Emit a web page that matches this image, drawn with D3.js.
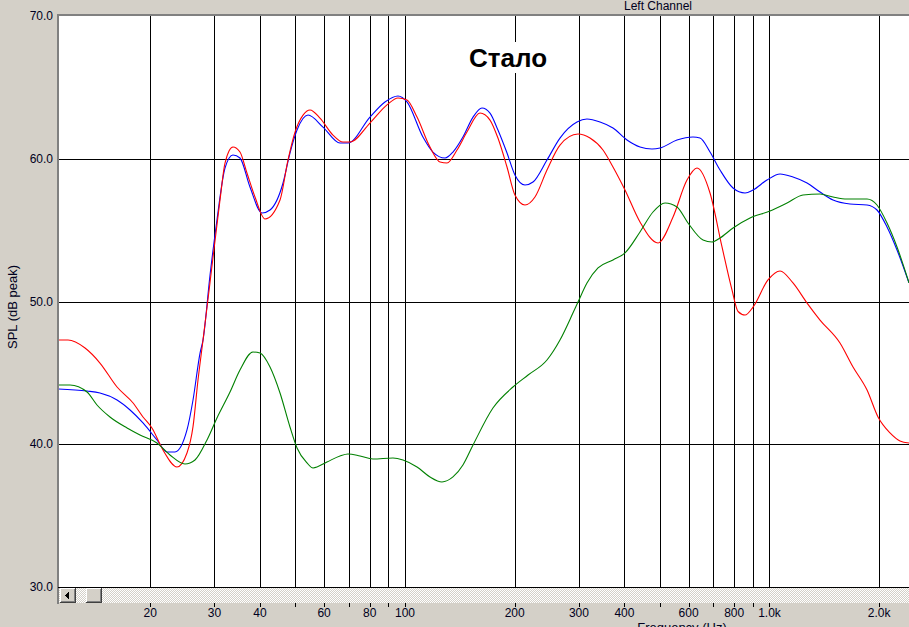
<!DOCTYPE html>
<html>
<head>
<meta charset="utf-8">
<script src="https://cdn.jsdelivr.net/npm/d3@7"></script>
<style>
  html, body { margin: 0; padding: 0; background: #d4d0c8; overflow: hidden; }
  svg { display: block; font-family: "Liberation Sans", Arial, sans-serif; }
</style>
</head>
<body>
<svg id="chart" width="909" height="627"></svg>
<script>
// Left channel frequency response, three measurements on a log axis.

// grid frequencies and the labels under them (blank = tick only)
let gridFreqs = [20, 30, 40, 50, 60, 70, 80, 90, 100, 200, 300, 400, 500, 600, 700, 800, 900, 1000, 2000];
let gridLabels = ["20", "30", "40", "", "60", "", "80", "", "100", "200", "300", "400", "", "600", "", "800", "", "1.0k", "2.0k"];
let dbTicks = [30, 40, 50, 60, 70];

// [frequency Hz, SPL dB]
let blueSeries = [
  [11.2, 43.87], [13.42, 43.73], [14.56, 43.59], [16.22, 43.10], [17.61, 42.40], [19.11, 41.49],
  [20.87, 40.30], [22.23, 39.46], [23.39, 39.46], [25.23, 41.00], [26.21, 43.10], [27.40, 46.39],
  [27.92, 47.30], [29.17, 51.8], [30.49, 55.71], [32.08, 59.35], [33.74, 60.26], [35.26, 60.05],
  [37.56, 58.02], [40.53, 56.20], [42.63, 56.41], [46.28, 58.30], [48.36, 60.40], [50.56, 62.01],
  [54.20, 63.06], [59.57, 62.22], [66.32, 61.10], [69.76, 61.10], [80.15, 62.92], [88.13, 63.98],
  [95.67, 64.40], [101.27, 63.98], [112.0, 61.52], [119.3, 60.47], [128.8, 60.05], [135.4, 60.47],
  [144.2, 61.52], [153.7, 62.92], [162.6, 63.56], [171.1, 63.20], [179.9, 62.01], [190.5, 60.40],
  [200.3, 58.86], [213.4, 58.16], [224.5, 58.37], [245.2, 59.91], [266.2, 61.45], [296.4, 62.57],
  [315.7, 62.78], [342.8, 62.57], [372.1, 62.15], [406.5, 61.31], [441.3, 60.82], [476.1, 60.68],
  [500.8, 60.75], [557.5, 61.31], [616.8, 61.52], [644.7, 61.45], [686.8, 60.47], [731.6, 59.21],
  [794.2, 57.95], [856.9, 57.60], [901.2, 57.81], [984.3, 58.51], [1069, 58.93], [1160, 58.72],
  [1268, 58.30], [1376, 57.67], [1494, 57.11], [1663, 56.83], [1852, 56.76], [1972, 56.41],
  [2101, 55.22], [2238, 53.61], [2414, 51.3]
];

let redSeries = [
  [11.2, 47.30], [11.90, 47.30], [13.25, 46.74], [14.56, 45.69], [16.22, 44.01], [17.95, 42.89],
  [19.11, 41.91], [20.22, 41.14], [21.68, 39.60], [23.68, 38.41], [25.23, 39.39], [26.21, 41.23],
  [27.05, 44.50], [27.92, 47.30], [29.17, 51.3], [31.08, 57.11], [32.08, 59.70], [33.74, 60.82],
  [35.26, 60.47], [36.85, 59.00], [38.77, 57.32], [41.30, 55.78], [45.41, 57.11], [47.75, 59.91],
  [49.92, 61.87], [52.52, 63.06], [54.89, 63.42], [58.44, 62.85], [63.45, 61.66], [67.59, 61.17],
  [70.65, 61.17], [80.15, 62.50], [89.25, 63.77], [95.67, 64.26], [101.27, 64.12], [107.9, 62.92],
  [117.1, 60.82], [124.8, 59.77], [130.4, 59.70], [138.9, 60.61], [147.9, 61.87], [160.6, 63.20],
  [171.1, 62.71], [179.9, 61.45], [190.5, 59.42], [200.3, 57.46], [213.4, 56.76], [227.3, 57.32],
  [245.2, 59.21], [266.2, 60.96], [298.3, 61.73], [321.8, 61.45], [349.3, 60.61], [372.1, 59.42],
  [401.4, 57.81], [441.3, 55.57], [494.5, 54.10], [543.7, 55.92], [593.8, 58.51], [632.6, 59.35],
  [686.8, 57.60], [740.9, 53.82], [789.0, 50.81], [820.0, 49.30], [856.9, 49.05], [901.2, 49.61],
  [990.6, 51.51], [1069, 52.14], [1160, 51.30], [1268, 49.89], [1376, 48.70], [1561, 47.09],
  [1695, 45.41], [1852, 43.80], [1985, 41.91], [2141, 40.79], [2280, 40.23], [2414, 40.09]
];

let greenSeries = [
  [11.2, 44.15], [12.05, 44.15], [13.42, 43.66], [14.29, 42.75], [15.51, 41.91], [17.28, 41.14],
  [18.75, 40.65], [20.87, 40.09], [22.66, 39.25], [24.91, 38.62], [26.54, 38.90], [28.63, 40.30],
  [30.49, 41.84], [33.11, 43.66], [35.26, 45.20], [38.28, 46.46], [40.02, 46.39], [42.63, 45.41],
  [45.41, 43.59], [48.36, 41.21], [50.56, 39.74], [53.86, 38.69], [55.94, 38.34], [61.09, 38.76],
  [66.32, 39.18], [69.76, 39.32], [75.25, 39.18], [81.70, 38.97], [92.70, 39.04], [98.74, 38.90],
  [107.9, 38.41], [117.1, 37.71], [126.3, 37.36], [135.4, 37.71], [144.2, 38.55], [153.7, 39.95],
  [174.3, 42.54], [197.8, 44.01], [217.6, 44.85], [245.2, 45.90], [266.2, 47.30], [288.9, 49.19],
  [298.3, 49.96], [315.7, 51.30], [338.5, 52.35], [372.1, 52.91], [401.4, 53.40], [441.3, 54.87],
  [479.1, 56.27], [516.9, 56.90], [557.5, 56.62], [597.6, 55.50], [657.1, 54.31], [695.5, 54.17],
  [731.6, 54.45], [794.2, 55.15], [884.4, 55.85], [1003, 56.34], [1117, 56.90], [1236, 57.46],
  [1376, 57.53], [1494, 57.32], [1632, 57.18], [1852, 57.18], [1972, 56.76], [2101, 55.50],
  [2238, 53.82], [2414, 51.30]
];

let svg = d3.select("#chart");
let plot = { left: 58, top: 16, right: 909, bottom: 587 };

let x = d3.scaleLog().domain([11.17, 2414]).range([plot.left, plot.right]);
let y = d3.scaleLinear().domain([30, 70]).range([plot.bottom, plot.top]);

// hatched scrollbar track
let defs = svg.append("defs");
let pat = defs.append("pattern")
  .attr("id", "hatch").attr("width", 2).attr("height", 2)
  .attr("patternUnits", "userSpaceOnUse");
pat.append("rect").attr("width", 2).attr("height", 2).attr("fill", "#d4d0c8");
pat.append("rect").attr("width", 1).attr("height", 1).attr("fill", "#ffffff");
pat.append("rect").attr("x", 1).attr("y", 1).attr("width", 1).attr("height", 1).attr("fill", "#ffffff");
defs.append("clipPath").attr("id", "plotClip")
  .append("rect")
  .attr("x", plot.left).attr("y", plot.top)
  .attr("width", plot.right - plot.left).attr("height", plot.bottom - plot.top);

// plot background
svg.append("rect")
  .attr("x", plot.left).attr("y", plot.top)
  .attr("width", plot.right - plot.left).attr("height", plot.bottom - plot.top)
  .attr("fill", "#ffffff");

// grid
let grid = svg.append("g").attr("shape-rendering", "crispEdges").attr("stroke", "#000");
grid.selectAll("line.v")
  .data(gridFreqs)
  .enter().append("line")
    .attr("class", "v")
    .attr("x1", d => Math.round(x(d)) + 0.5).attr("x2", d => Math.round(x(d)) + 0.5)
    .attr("y1", plot.top).attr("y2", plot.bottom);
grid.selectAll("line.h")
  .data(dbTicks.slice(1, -1))
  .enter().append("line")
    .attr("class", "h")
    .attr("x1", plot.left).attr("x2", plot.right)
    .attr("y1", d => Math.round(y(d)) + 0.5).attr("y2", d => Math.round(y(d)) + 0.5);

// curves
let line = d3.line()
  .x(d => x(d[0]))
  .y(d => y(d[1]))
  .curve(d3.curveMonotoneX);

let curves = svg.append("g").attr("clip-path", "url(#plotClip)");
[[blueSeries, "#0000ff"], [redSeries, "#ff0000"], [greenSeries, "#008000"]].forEach(function(s) {
  curves.append("path")
    .datum(s[0])
    .attr("d", line)
    .attr("fill", "none")
    .attr("stroke", s[1])
    .attr("stroke-width", 1.1);
});

// "Стало" caption on white box
svg.append("rect")
  .attr("x", 465).attr("y", 42).attr("width", 87).attr("height", 31)
  .attr("fill", "#ffffff");
svg.append("text")
  .attr("x", 508).attr("y", 67)
  .attr("text-anchor", "middle")
  .style("font-size", "26px").style("font-weight", "bold")
  .text("Стало");

// frame: top and left
svg.append("rect").attr("x", plot.left - 1).attr("y", plot.top - 2)
  .attr("width", plot.right - plot.left + 1).attr("height", 2).attr("fill", "#808080");
svg.append("rect").attr("x", plot.left - 1).attr("y", plot.top - 2)
  .attr("width", 2).attr("height", 606 - plot.top).attr("fill", "#808080");
svg.append("line")
  .attr("x1", plot.left).attr("x2", plot.right)
  .attr("y1", plot.bottom + 0.5).attr("y2", plot.bottom + 0.5)
  .attr("stroke", "#000").attr("shape-rendering", "crispEdges");

// scrollbar
let sb = svg.append("g").attr("shape-rendering", "crispEdges");
sb.append("rect").attr("x", plot.left + 1).attr("y", plot.bottom + 1)
  .attr("width", plot.right - plot.left).attr("height", 15).attr("fill", "url(#hatch)");
function sbButton(bx) {
  sb.append("rect").attr("x", bx).attr("y", 588).attr("width", 16).attr("height", 15).attr("fill", "#404040");
  sb.append("rect").attr("x", bx).attr("y", 588).attr("width", 15).attr("height", 14).attr("fill", "#ffffff");
  sb.append("rect").attr("x", bx + 1).attr("y", 589).attr("width", 14).attr("height", 13).attr("fill", "#808080");
  sb.append("rect").attr("x", bx + 1).attr("y", 589).attr("width", 13).attr("height", 12).attr("fill", "#d4d0c8");
}
sbButton(60);
sbButton(86);
sb.append("path").attr("d", "M65,595.5 L69,591.5 L69,599.5 Z").attr("fill", "#000");

// x ticks and labels
let xt = svg.append("g");
xt.selectAll("line")
  .data(gridFreqs)
  .enter().append("line")
    .attr("x1", d => Math.round(x(d)) + 0.5).attr("x2", d => Math.round(x(d)) + 0.5)
    .attr("y1", 603).attr("y2", 607)
    .attr("stroke", "#000").attr("shape-rendering", "crispEdges");
xt.selectAll("text")
  .data(gridFreqs.map((f, i) => ({ f: f, label: gridLabels[i] })).filter(d => d.label))
  .enter().append("text")
    .attr("x", d => x(d.f))
    .attr("y", 617)
    .attr("text-anchor", "middle")
    .style("font-size", "12px")
    .attr("fill", "#000020")
    .text(d => d.label);
// axis title sits partly below the window edge, as in the original capture
svg.append("text")
  .attr("x", 682).attr("y", 632)
  .attr("text-anchor", "middle")
  .style("font-size", "13px")
  .attr("fill", "#000020")
  .text("Frequency (Hz)");

// y labels
svg.selectAll("text.ylab")
  .data(dbTicks)
  .enter().append("text")
    .attr("class", "ylab")
    .attr("x", 53)
    .attr("y", d => y(d) + 4)
    .attr("text-anchor", "end")
    .style("font-size", "12px")
    .attr("fill", "#000020")
    .text(d => d.toFixed(1));
svg.append("text")
  .attr("transform", "translate(17,307) rotate(-90)")
  .attr("text-anchor", "middle")
  .style("font-size", "13px")
  .attr("fill", "#000020")
  .text("SPL (dB peak)");

// title
svg.append("text")
  .attr("x", 658).attr("y", 10)
  .attr("text-anchor", "middle")
  .style("font-size", "12px")
  .attr("fill", "#000020")
  .text("Left Channel");
</script>
</body>
</html>
